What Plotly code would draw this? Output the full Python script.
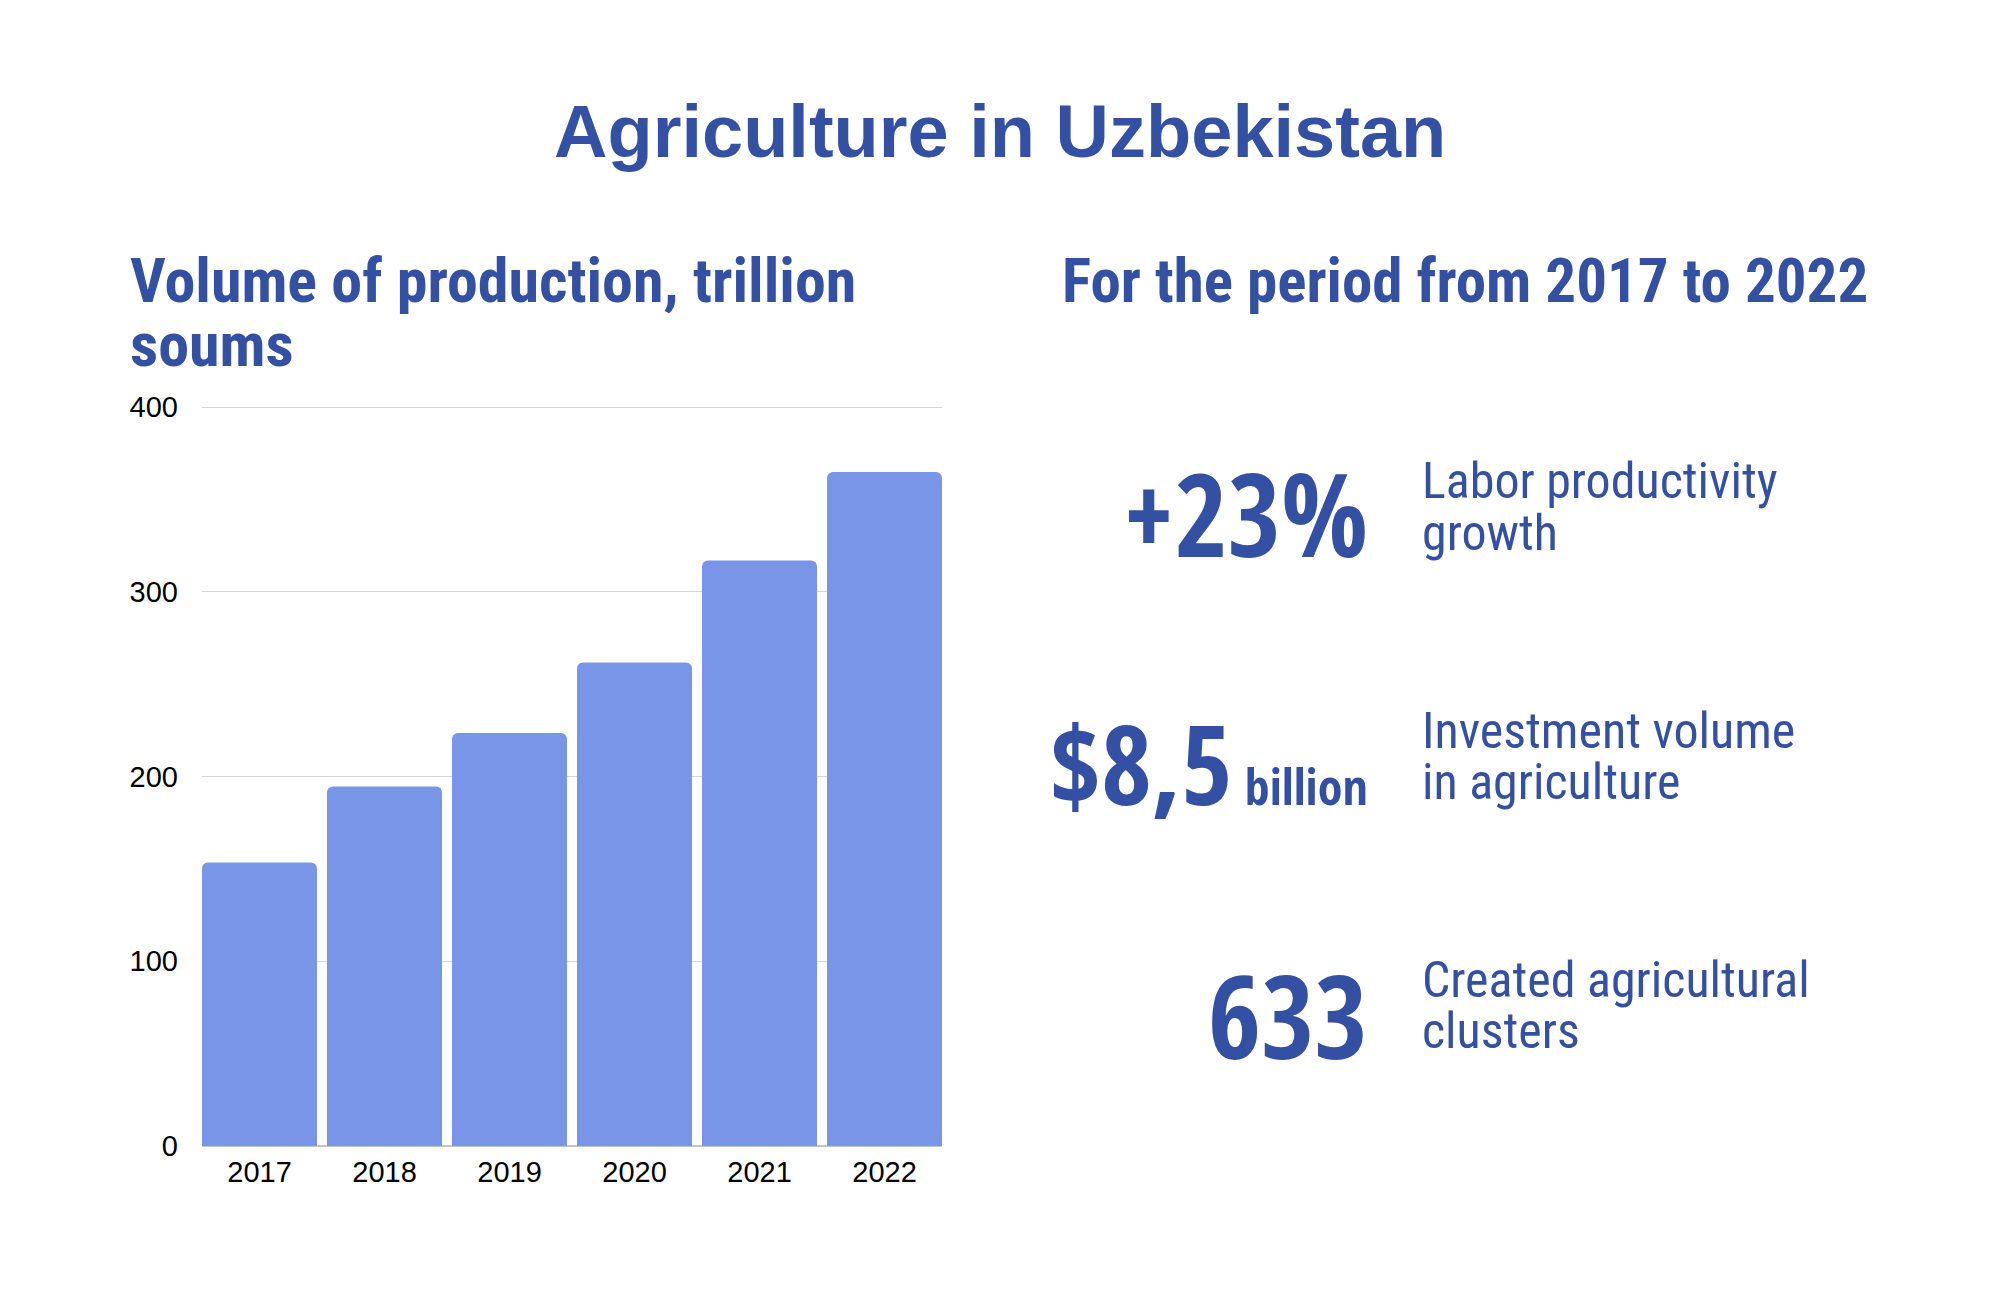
import plotly.graph_objects as go

years = ["2017", "2018", "2019", "2020", "2021", "2022"]
production = [153.5, 194.6, 223.6, 261.8, 316.9, 364.9]
y_ticks = [0, 100, 200, 300, 400]

title_text = "Agriculture in Uzbekistan"
left_heading = ["Volume of production, trillion", "soums"]
right_heading = "For the period from 2017 to 2022"
stats = ["+23%", "$8,5", "633"]
stat_suffix = ["", " billion", ""]
stat_labels = [["Labor productivity", "growth"],
               ["Investment volume", "in agriculture"],
               ["Created agricultural", "clusters"]]

W, H = 2000, 1300
OFF = 8  # page body offset
BLUE = "#3450A3"
BAR = "#7895E8"
SANS = "Liberation Sans, Arial, sans-serif"
COND = "Roboto Condensed, Open Sans Condensed, DejaVu Sans Condensed, sans-serif"
BIG = "Open Sans Condensed, Roboto Condensed, DejaVu Sans Condensed, sans-serif"
BARGAP = 0.08


def py(px):
    return 1 - (px - OFF) / H


def px_x(px):
    return (px - OFF) / W


fig = go.Figure()
fig.add_trace(go.Bar(
    x=years, y=production,
    marker=dict(color=BAR, cornerradius=6, line=dict(width=0)),
    hoverinfo="x+y",
))

ann = []
ann.append(dict(text=title_text, x=px_x(1000), y=py(131), xanchor="center", yanchor="middle",
                font=dict(family=SANS, size=74, color=BLUE, weight=700)))
ann.append(dict(text=left_heading[0], x=px_x(128), y=py(281), xanchor="left", yanchor="middle",
                font=dict(family=COND, size=62, color=BLUE, weight=700)))
ann.append(dict(text=left_heading[1], x=px_x(128), y=py(344), xanchor="left", yanchor="middle",
                font=dict(family=COND, size=62, color=BLUE, weight=700)))
ann.append(dict(text=right_heading, x=px_x(1060), y=py(281), xanchor="left", yanchor="middle",
                font=dict(family=COND, size=61, color=BLUE, weight=700)))

stat_y = [513, 762, 1014]
stat_size = [115, 110, 115]
label_y = [(481, 533), (731, 782), (980, 1031)]
for i in range(3):
    txt = stats[i]
    if stat_suffix[i]:
        txt += "<span style='font-size:50px'>" + stat_suffix[i] + "</span>"
    ann.append(dict(text=txt, x=px_x(1370), y=py(stat_y[i]), xanchor="right", yanchor="middle",
                    font=dict(family=BIG, size=stat_size[i], color=BLUE, weight=800)))
    for j in range(2):
        ann.append(dict(text=stat_labels[i][j], x=px_x(1420), y=py(label_y[i][j]),
                        xanchor="left", yanchor="middle",
                        font=dict(family=COND, size=50, color=BLUE, weight=400)))

for a in ann:
    a.update(xref="paper", yref="paper", showarrow=False)

half = (1 - BARGAP) / 2
fig.update_layout(
    width=W, height=H,
    margin=dict(l=0, r=0, t=0, b=0),
    paper_bgcolor="white", plot_bgcolor="white",
    showlegend=False,
    bargap=BARGAP,
    annotations=ann,
    xaxis=dict(domain=[px_x(202), px_x(942)], range=[-half, len(years) - 1 + half],
               showgrid=False, ticks="",
               tickfont=dict(family=SANS, size=29, color="black"),
               ticklabelstandoff=6, showline=False, automargin=False),
    yaxis=dict(domain=[py(1146), py(406)], range=[0, 400.6], tickvals=y_ticks,
               showgrid=True, gridcolor="#d4d4d4", gridwidth=1,
               zeroline=True, zerolinecolor="#c4c4c4", zerolinewidth=1.5,
               ticks="", tickfont=dict(family=SANS, size=29, color="black"),
               ticklabelstandoff=23, automargin=False),
)

fig.write_html("out.html")
